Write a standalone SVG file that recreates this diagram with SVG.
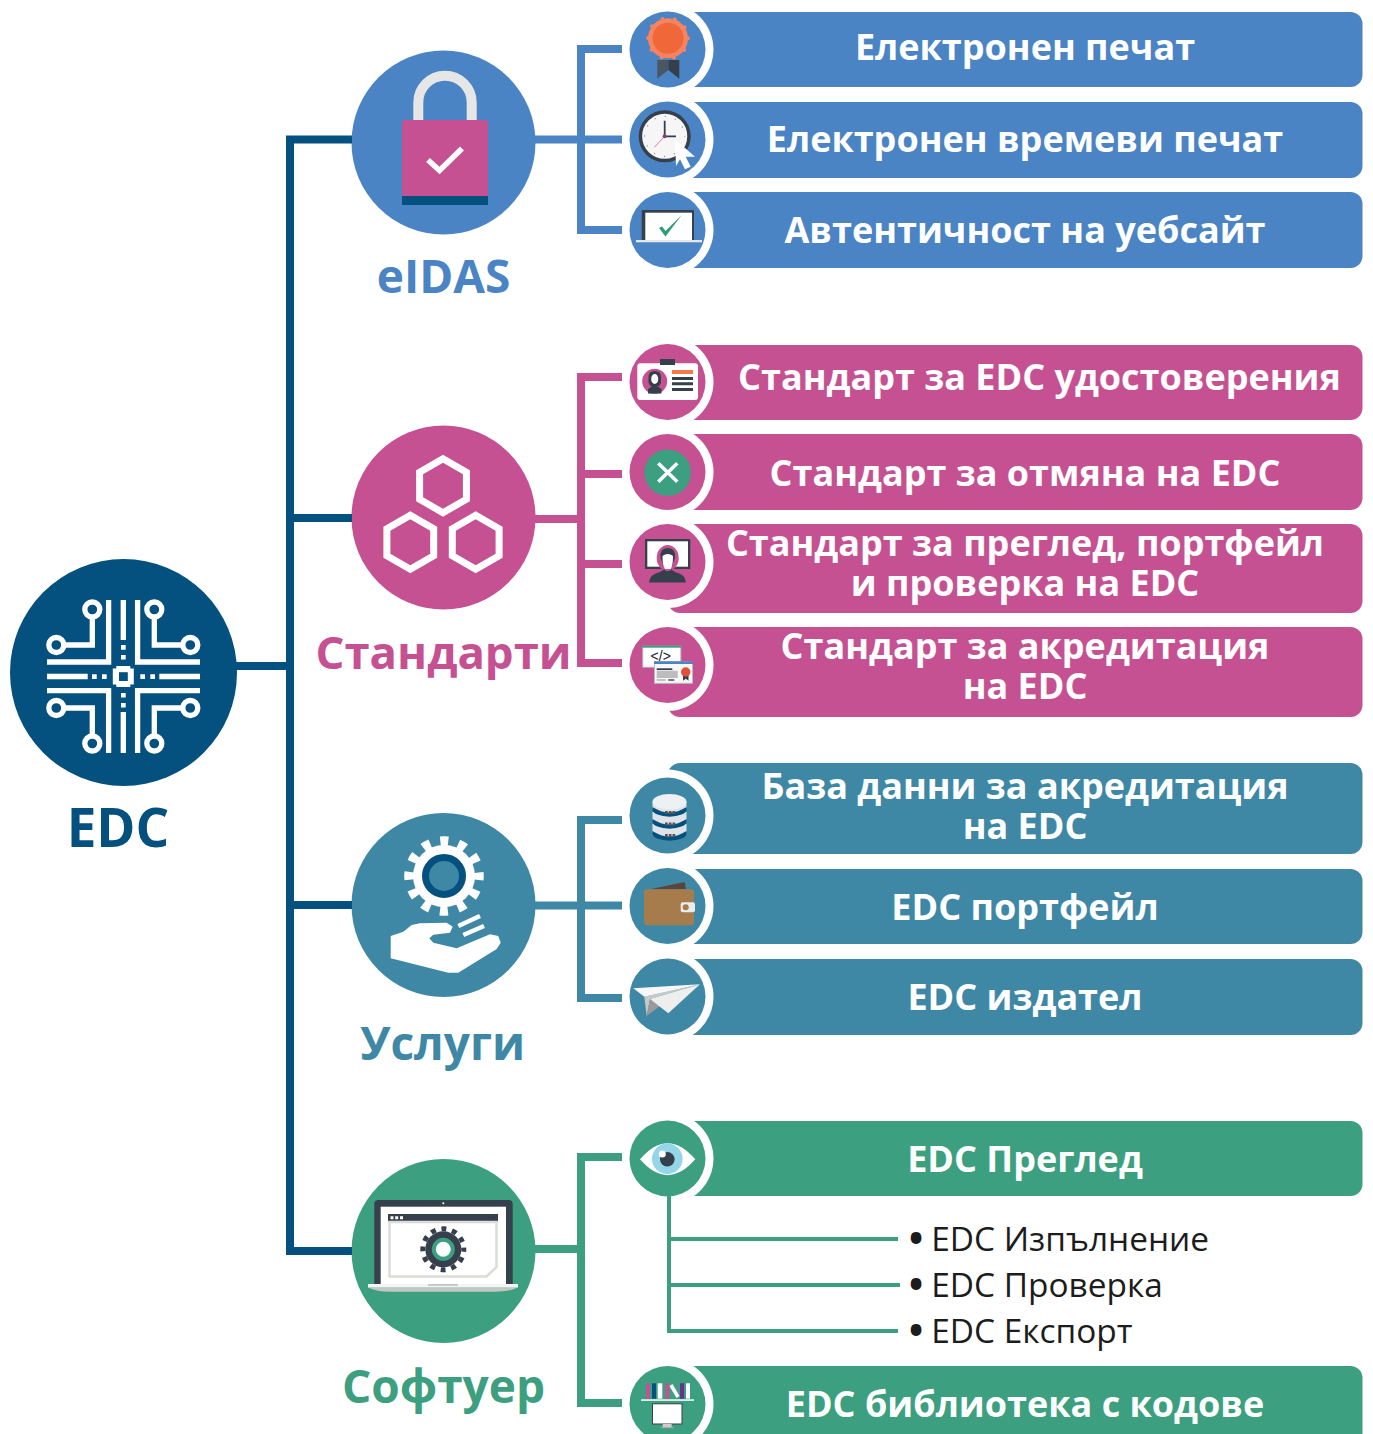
<svg xmlns="http://www.w3.org/2000/svg" width="1373" height="1434" viewBox="0 0 1373 1434">
<style>
text{font-family:"Open Sans","Noto Sans","Liberation Sans",sans-serif}
.b{fill:#fff;font-size:36px;font-weight:700;text-anchor:middle}
.h{font-size:46px;font-weight:700;text-anchor:middle}
.s{fill:#1c1c1c;font-size:33.400px;font-weight:500}
.ring{fill:#fff}
.blue{fill:#4a84c4}.pink{fill:#c55192}.teal{fill:#3e88a6}.green{fill:#3c9f80}.navy{fill:#04507f}
.w{fill:#fff}.dk{fill:#36404c}
.ln{fill:none;stroke-width:8}
.ic{fill:none;stroke:#fff;stroke-width:5.3}
</style>
<defs>
<g id="chip"><circle cx="-31" cy="-67" r="7.5" class="ic"/><circle cx="-67" cy="-31.5" r="7.5" class="ic"/><path class="ic" d="M-31-59.5V-31.5H-59.5"/></g>
</defs>
<g id="edc">
<circle cx="123.5" cy="672.5" r="113.5" class="navy"/>
<g transform="translate(123.3 676.5)">
<path class="ic" d="M-14.7-76.500V-14.500H-76.300M14.300-76.500V-14.500H76.700M-76.300 14.200H-14.700V76.500M76.700 14.200H14.300V76.500M-76.300 0H-35.600M36 0H76.700M0-76.500V-36.500M0 35.500V76.500"/>
<use href="#chip"/><use href="#chip" transform="scale(-1 1)"/><use href="#chip" transform="scale(1 -1)"/><use href="#chip" transform="scale(-1 -1)"/>
<path class="w" d="M-31.300-2.300h4.700v4.700h-4.700zM-21.300-2.300h4.700v4.700h-4.700zM17-2.300h4.700v4.700h-4.700zM27-2.300h4.700v4.700h-4.700zM-2.300-31.500h4.700v4.700h-4.700zM-2.300-21.500h4.700v4.400h-4.700zM-2.300 16.500h4.700v4.400h-4.700zM-2.300 26.500h4.700v4.400h-4.700z"/>
<path class="w" d="M-7-10.500H7V-8H10.500V8H7V10.500H-7V8H-10.500V-8H-7z"/>
<rect x="-4.300" y="-4.300" width="8.800" height="8.800" class="navy"/>
</g>
<text x="118" y="847" class="h navy" style="font-size:53px">EDC</text>
</g>
<g id="eidas">
<circle cx="443.500" cy="142.500" r="92" class="blue"/>
<path d="M418.300 121V102.400A26.700 26.700 0 0 1 471.700 102.400V121" fill="none" stroke="#e6e6e6" stroke-width="10"/>
<path class="pink" d="M402 123q0-3 3-3h80q3 0 3 3V196H402z"/>
<rect x="402" y="196" width="86" height="9" class="navy"/>
<path d="M428 160L439.500 170.500L462 148.500" fill="none" stroke="#fff" stroke-width="5.500"/>
<text x="443.500" y="293" class="h" fill="#4a84c4">eIDAS</text>
</g>
<g id="standards">
<circle cx="443.500" cy="517.500" r="92" class="pink"/>
<g fill="none" stroke="#fff" stroke-width="7">
<path d="M443 458.700L466.400 472.200V499.200L443 512.700L419.600 499.200V472.200Z"/>
<path d="M410.300 515.300L433.700 528.800V555.800L410.300 569.300L386.900 555.800V528.800Z"/>
<path d="M475.700 515.300L499.100 528.800V555.800L475.700 569.300L452.300 555.800V528.800Z"/>
</g>
<text x="443.500" y="669" class="h" fill="#c55192" style="font-size:45.500px">Стандарти</text>
</g>
<g id="services">
<circle cx="443.500" cy="905" r="92" class="teal"/>
<circle cx="444" cy="876" r="35" fill="none" stroke="#fff" stroke-width="9.500" stroke-dasharray="8 10.330" stroke-dashoffset="4"/>
<circle cx="444" cy="876" r="31" class="w"/>
<circle cx="444" cy="876" r="18.500" class="teal" stroke="#04507f" stroke-width="7"/>
<path class="w" d="M390.700 936L403.300 931.700L411.700 925L420 923.300L446.700 922.700L452.700 926.700L450 932.700L433.300 934.700L429.300 938.300L433.300 942.700L456.700 948.300L490 934.300L498.300 936L500.700 942.700L496.700 949L458.300 972.700L448.300 972.700L390.700 958.300Z"/>
<path d="M458.300 926L480 916M463.300 935L484 926" stroke="#fff" stroke-width="4.500" fill="none"/>
<text x="442.500" y="1060" class="h" fill="#3e88a6">Услуги</text>
</g>
<g id="software">
<circle cx="443.500" cy="1251" r="92" class="green"/>
<path class="dk" d="M374.300 1284V1204q0-4 4-4H508.700q4 0 4 4V1284z"/>
<rect x="380.700" y="1206.700" width="125.300" height="78" class="w"/>
<rect x="388" y="1214" width="110" height="7.700" class="dk"/>
<path class="w" d="M390.500 1216.200h3v3h-3zM395.200 1216.200h3v3h-3zM400 1216.200h3v3h-3z"/>
<circle cx="443.300" cy="1203.300" r="1" class="w"/>
<path d="M389.500 1222H496.500V1267L486.500 1276.500H389.500Z" fill="none" stroke="#dddcd9" stroke-width="2.500"/>
<circle cx="443.300" cy="1249.300" r="20.500" fill="none" stroke="#36404c" stroke-width="5" stroke-dasharray="5 5.730" stroke-dashoffset="2.500"/>
<circle cx="443.300" cy="1249.300" r="18" class="dk"/>
<circle cx="443.300" cy="1249.300" r="9.500" class="w" stroke="#3c9f80" stroke-width="4"/>
<path d="M368 1287.500H518Q510 1291.700 495 1291.700H391Q376 1291.700 368 1287.500Z" fill="#c5c6c3"/>
<rect x="368" y="1284" width="150" height="3.500" fill="#f4f4f4"/>
<rect x="428" y="1284" width="30" height="1.800" fill="#c5c6c3"/>
<text x="443.500" y="1403" class="h" fill="#3c9f80">Софтуер</text>
</g>
<g id="bar-seal">
<rect x="668" y="12" width="694.500" height="75" rx="12" class="blue"/><circle cx="667.500" cy="49.500" r="46" class="ring"/><circle cx="667.500" cy="49.500" r="38" class="blue"/>
<path d="M657.300 60H668.300V70L657.300 78.700Z" fill="#4b5663"/><path d="M668.300 60H679.300V78.700L668.300 70Z" fill="#36404c"/>
<circle cx="668" cy="38.300" r="20" fill="#f7845e"/><circle cx="668" cy="38.300" r="20" fill="none" stroke="#f7845e" stroke-width="4" stroke-linecap="round" stroke-dasharray="0 12.570"/><circle cx="668" cy="38.300" r="15.500" fill="#f0673a"/>
<text x="1025" y="60" class="b">Електронен печат</text>
</g>
<g id="bar-time">
<rect x="668" y="102" width="694.500" height="76" rx="12" class="blue"/><circle cx="667.500" cy="139.500" r="46" class="ring"/><circle cx="667.500" cy="139.500" r="38" class="blue"/>
<circle cx="664.700" cy="136.300" r="24.300" fill="#f6f6f6" stroke="#36404c" stroke-width="3.500"/>
<circle cx="664.700" cy="136.300" r="20" fill="none" stroke="#888" stroke-width="1.300" stroke-dasharray="1 9.470" stroke-dashoffset=".5"/>
<path d="M664.700 120.700V136.300H676" fill="none" stroke="#36404c" stroke-width="1.800"/><path d="M664.700 136.300L654.300 147.300" stroke="#d77ab0" stroke-width="1"/><circle cx="664.700" cy="136.300" r="2" fill="#8a3c7a"/>
<path d="M675 139.300L695 156.700L685.700 156.700L690.700 166.700L685 169.300L680 159.300L676 166Z" fill="#fff"/>
<text x="1025" y="152" class="b">Електронен времеви печат</text>
</g>
<g id="bar-web">
<rect x="668" y="192" width="694.500" height="76" rx="12" class="blue"/><circle cx="667.500" cy="230" r="46" class="ring"/><circle cx="667.500" cy="230" r="38" class="blue"/>
<path class="dk" d="M641.700 240.700V211q0-1 1-1H693q1 0 1 1V240.700Z"/><rect x="645.300" y="212.700" width="46.700" height="28" class="w"/><rect x="636" y="240" width="66" height="2.300" fill="#e6e6e6"/>
<path d="M659 228L662 226.500L665.500 231L681.700 215L665.500 236.500Z" fill="#2f9c74"/>
<text x="1025" y="243" class="b">Автентичност на уебсайт</text>
</g>
<g id="bar-id">
<rect x="668" y="345" width="694.500" height="75" rx="12" class="pink"/><circle cx="667.500" cy="382" r="46" class="ring"/><circle cx="667.500" cy="382" r="38" class="pink"/>
<rect x="637.300" y="363.300" width="60.700" height="36.700" rx="3" class="w"/><rect x="660" y="359" width="15" height="6" class="dk"/>
<circle cx="654.700" cy="381.300" r="12.500" class="pink"/>
<path class="dk" d="M648.500 383V377Q648.500 371 654.700 371Q661 371 661 377V383L659 386H650.500Z"/><ellipse cx="654.700" cy="379" rx="3.500" ry="5" class="w"/><path class="dk" d="M648 393.500V389Q651 387 652.500 386H657Q658.500 387 661.500 389V393.500Z"/>
<rect x="672" y="370" width="21" height="4" fill="#f7784a"/><path class="dk" d="M672 377h21v3h-21zM672 382.300h21v3h-21zM672 388h21v3h-21z"/>
<text x="1039.500" y="390" class="b">Стандарт за EDC удостоверения</text>
</g>
<g id="bar-revoke">
<rect x="668" y="434" width="694.500" height="76" rx="12" class="pink"/><circle cx="667.500" cy="472" r="46" class="ring"/><circle cx="667.500" cy="472" r="38" class="pink"/>
<circle cx="667.700" cy="472.700" r="23.300" class="green"/><path d="M658.300 463.300L677.300 481.700M677.300 463.300L658.300 481.700" stroke="#fff" stroke-width="3.500"/>
<text x="1025" y="486" class="b">Стандарт за отмяна на EDC</text>
</g>
<g id="bar-viewer">
<rect x="668" y="524" width="694.500" height="89" rx="12" class="pink"/><circle cx="667.500" cy="562" r="46" class="ring"/><circle cx="667.500" cy="562" r="38" class="pink"/>
<rect x="645" y="539" width="45.300" height="30" class="dk"/><rect x="647.300" y="541.300" width="40.700" height="25.400" class="w"/>
<ellipse cx="667.700" cy="558" rx="11" ry="13" class="pink"/>
<path class="dk" d="M660.500 558Q659.500 548 667.700 548Q676 548 675 558L672 566H663.500Z"/><path class="w" d="M662.500 556Q667.700 552 673 556Q673 566 670.500 569H665Q662.500 566 662.500 556Z"/>
<path class="dk" d="M649 582.500Q650 574 660 572L664 569.500Q667.700 573 671.500 569.500L675 572Q685 574 686 582.500Z"/>
<text x="1025" y="556" class="b">Стандарт за преглед, портфейл</text><text x="1025" y="596" class="b">и проверка на EDC</text>
</g>
<g id="bar-accr">
<rect x="668" y="627" width="694.500" height="90" rx="12" class="pink"/><circle cx="667.500" cy="665" r="46" class="ring"/><circle cx="667.500" cy="665" r="38" class="pink"/>
<rect x="642.800" y="646.200" width="38" height="21" fill="#fff" stroke="#bbb"/><rect x="642.300" y="645.700" width="39" height="2" class="green"/>
<text x="660.700" y="661" font-size="14" text-anchor="middle" fill="#222" style="font-family:'Liberation Sans',sans-serif">&lt;/&gt;</text>
<rect x="654.500" y="661.800" width="38" height="21.500" fill="#f7f7f7" stroke="#bbb"/><rect x="654" y="661.300" width="39" height="2.700" class="blue"/>
<rect x="656.700" y="668.300" width="15.600" height="1.700" class="dk"/><rect x="656.700" y="670.700" width="21" height="7.300" fill="#bdbdbd"/><rect x="656.700" y="679.300" width="9" height="1.400" fill="#aaa"/><rect x="668.300" y="679.300" width="6" height="1.400" class="dk"/>
<path class="dk" d="M683 672h5.500v8.700l-2.700-2-2.800 2z"/><circle cx="685.700" cy="672" r="4.700" fill="#e0503a"/>
<text x="1025" y="659" class="b">Стандарт за акредитация</text><text x="1025" y="699" class="b">на EDC</text>
</g>
<g id="bar-db">
<rect x="668" y="763" width="694.500" height="91" rx="12" class="teal"/><circle cx="667.500" cy="815.500" r="46" class="ring"/><circle cx="667.500" cy="815.500" r="38" class="teal"/>
<g transform="translate(669.500 0)">
<ellipse cx="0" cy="833.500" rx="17" ry="7.200" class="navy"/><path d="M-17 824V831Q0 842 17 831V824Z" fill="#dfe3e7"/>
<ellipse cx="0" cy="821.500" rx="17" ry="7.200" class="navy"/><path d="M-17 812V819Q0 830 17 819V812Z" fill="#dfe3e7"/>
<ellipse cx="0" cy="809.500" rx="17" ry="7.200" class="navy"/><path d="M-17 801.700V807Q0 818 17 807V801.700Z" fill="#dfe3e7"/>
<ellipse cx="0" cy="801.700" rx="17" ry="7.700" fill="#eef1f4"/>
<path fill="#555" d="M-4.500 811h2.700v3h-2.700zM-.7 811h2.700v3h-2.700zM3 811h2.700v3h-2.700zM-4.500 822.500h2.700v3h-2.700zM-.7 822.500h2.700v3h-2.700zM3 822.500h2.700v3h-2.700zM-4.500 834h2.700v3h-2.700zM-.7 834h2.700v3h-2.700zM3 834h2.700v3h-2.700z"/>
</g>
<text x="1025" y="799" class="b">База данни за акредитация</text><text x="1025" y="839" class="b">на EDC</text>
</g>
<g id="bar-wallet">
<rect x="668" y="869" width="694.500" height="75" rx="12" class="teal"/><circle cx="667.500" cy="906" r="46" class="ring"/><circle cx="667.500" cy="906" r="38" class="teal"/>
<path d="M650 889.300L684.700 882L686 889.300Z" fill="#59453d"/><rect x="644" y="889.300" width="50" height="36" rx="3" fill="#a67c4d"/><rect x="680.700" y="902.300" width="14.300" height="10" rx="2" fill="#ececec"/><circle cx="685.700" cy="907.300" r="3" fill="#a67c4d"/>
<text x="1025" y="920" class="b">EDC портфейл</text>
</g>
<g id="bar-issuer">
<rect x="668" y="959" width="694.500" height="76" rx="12" class="teal"/><circle cx="667.500" cy="996.500" r="46" class="ring"/><circle cx="667.500" cy="996.500" r="38" class="teal"/>
<path d="M644.300 996.700L700 984.300L650 999L646.700 1016Z" fill="#c8c8c8"/><path d="M646.700 1016L650 999L660 1006Z" fill="#9a9a9a"/><path d="M633.300 988.300L700 984.300L644.300 996.700Z" fill="#f7f7f7"/><path d="M700 984.300L650 999L668.300 1013.300Z" fill="#eee"/>
<text x="1025" y="1010" class="b">EDC издател</text>
</g>
<g id="bar-preview">
<rect x="668" y="1121" width="694.500" height="75" rx="12" class="green"/><circle cx="667.500" cy="1158.500" r="46" class="ring"/><circle cx="667.500" cy="1158.500" r="38" class="green"/>
<path d="M640 1159.300Q667.500 1127 695.300 1159.300Q667.500 1191 640 1159.300Z" class="w"/><circle cx="667.300" cy="1158.700" r="15.300" fill="#92d6e8"/><circle cx="667.300" cy="1159.300" r="7.300" class="dk"/><circle cx="662.300" cy="1154" r="3.500" class="w"/>
<text x="1025" y="1172" class="b">EDC Преглед</text>
<text x="909.500" y="1251" class="s"><tspan font-weight="800">•</tspan> EDC Изпълнение</text><text x="909.500" y="1297" class="s"><tspan font-weight="800">•</tspan> EDC Проверка</text><text x="909.500" y="1343" class="s"><tspan font-weight="800">•</tspan> EDC Експорт</text>
</g>
<g id="bar-library">
<rect x="668" y="1366" width="694.500" height="90" rx="12" class="green"/><circle cx="667.500" cy="1404" r="46" class="ring"/><circle cx="667.500" cy="1404" r="38" class="green"/>
<rect x="646" y="1383.300" width="4" height="15.400" class="pink"/><rect x="652" y="1383.300" width="4" height="15.400" class="navy"/><rect x="657.700" y="1383.300" width="4.600" height="15.400" class="w"/><rect x="665.300" y="1383.300" width="4" height="15.400" class="pink"/><path d="M671 1385L678 1397" stroke="#fff" stroke-width="3.500"/><rect x="680" y="1383.300" width="4" height="15.400" fill="#6b2f8f"/><rect x="686" y="1383.300" width="4" height="15.400" class="w"/><rect x="641" y="1399.300" width="53" height="1.500" class="w"/>
<rect x="652.500" y="1403.800" width="29.500" height="20.200" fill="#fff" stroke="#36404c"/><rect x="662.700" y="1424" width="9" height="3" fill="#ccc"/><rect x="661" y="1427" width="12.500" height="1.200" fill="#aaa"/>
<text x="1025" y="1417" class="b">EDC библиотека с кодове</text>
</g>
<g id="connectors">
<path class="ln" stroke="#04507f" d="M352 139.500H290V1251H352M236 666H290M290 518H352M290 905H352"/>
<path class="ln" stroke="#4a84c4" d="M622 49H581V230H622M535 139.500H622"/>
<path class="ln" stroke="#c55192" d="M622 377H581V663H622M535 519H581M581 474H622M581 564H622"/>
<path class="ln" stroke="#3e88a6" d="M622 820H581V998H622M535 905.500H622"/>
<path class="ln" stroke="#3c9f80" d="M622 1157H581V1403H622M535 1249H581"/>
<path fill="none" stroke="#3c9f80" stroke-width="4" d="M669 1195V1331H898M669 1239H898M669 1285H900"/>
</g>
</svg>
